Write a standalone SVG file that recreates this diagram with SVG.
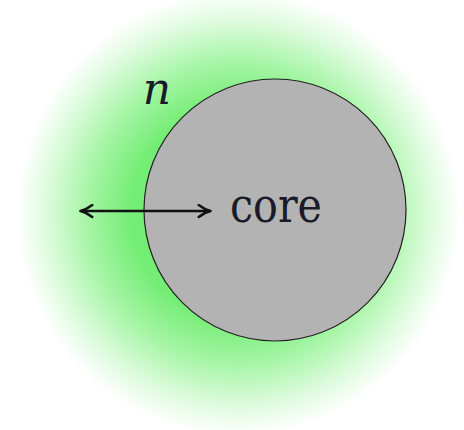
<svg xmlns="http://www.w3.org/2000/svg" width="464" height="430" viewBox="0 0 464 430">
  <defs>
    <radialGradient id="glow" gradientUnits="userSpaceOnUse" cx="238" cy="213" r="222">
      <stop offset="0" stop-color="#66ea66"/>
      <stop offset="0.48" stop-color="#74ed74"/>
      <stop offset="0.68" stop-color="#a6f5a6"/>
      <stop offset="0.86" stop-color="#dcfbdc"/>
      <stop offset="1" stop-color="#ffffff"/>
    </radialGradient>
    <marker id="ah" viewBox="0 0 14 14" refX="12" refY="7" markerWidth="15" markerHeight="15" markerUnits="userSpaceOnUse" orient="auto-start-reverse">
      <path d="M1.5,1.5 Q7,5.8 12.5,7 Q7,8.2 1.5,12.5" fill="none" stroke="#111" stroke-width="2.4" stroke-linecap="round" stroke-linejoin="round"/>
    </marker>
  </defs>
  <rect width="464" height="430" fill="#ffffff"/>
  <g id="halo">
    <circle cx="238" cy="213" r="222" fill="url(#glow)"/>
  </g>
  <g id="core">
    <circle cx="275" cy="210" r="131" fill="#b3b3b3" stroke="#222" stroke-width="1.2"/>
    <text x="276" y="222" font-family="DejaVu Serif, serif" font-size="48" fill="#1a1a28" text-anchor="middle" textLength="92" lengthAdjust="spacingAndGlyphs">core</text>
  </g>
  <g id="label-n">
    <text x="157" y="104" font-family="DejaVu Serif, serif" font-size="44" font-style="italic" fill="#1a1a28" text-anchor="middle">n</text>
  </g>
  <g id="connectors">
    <line x1="81" y1="211" x2="210" y2="211" stroke="#111" stroke-width="2.6" marker-start="url(#ah)" marker-end="url(#ah)"/>
  </g>
</svg>
